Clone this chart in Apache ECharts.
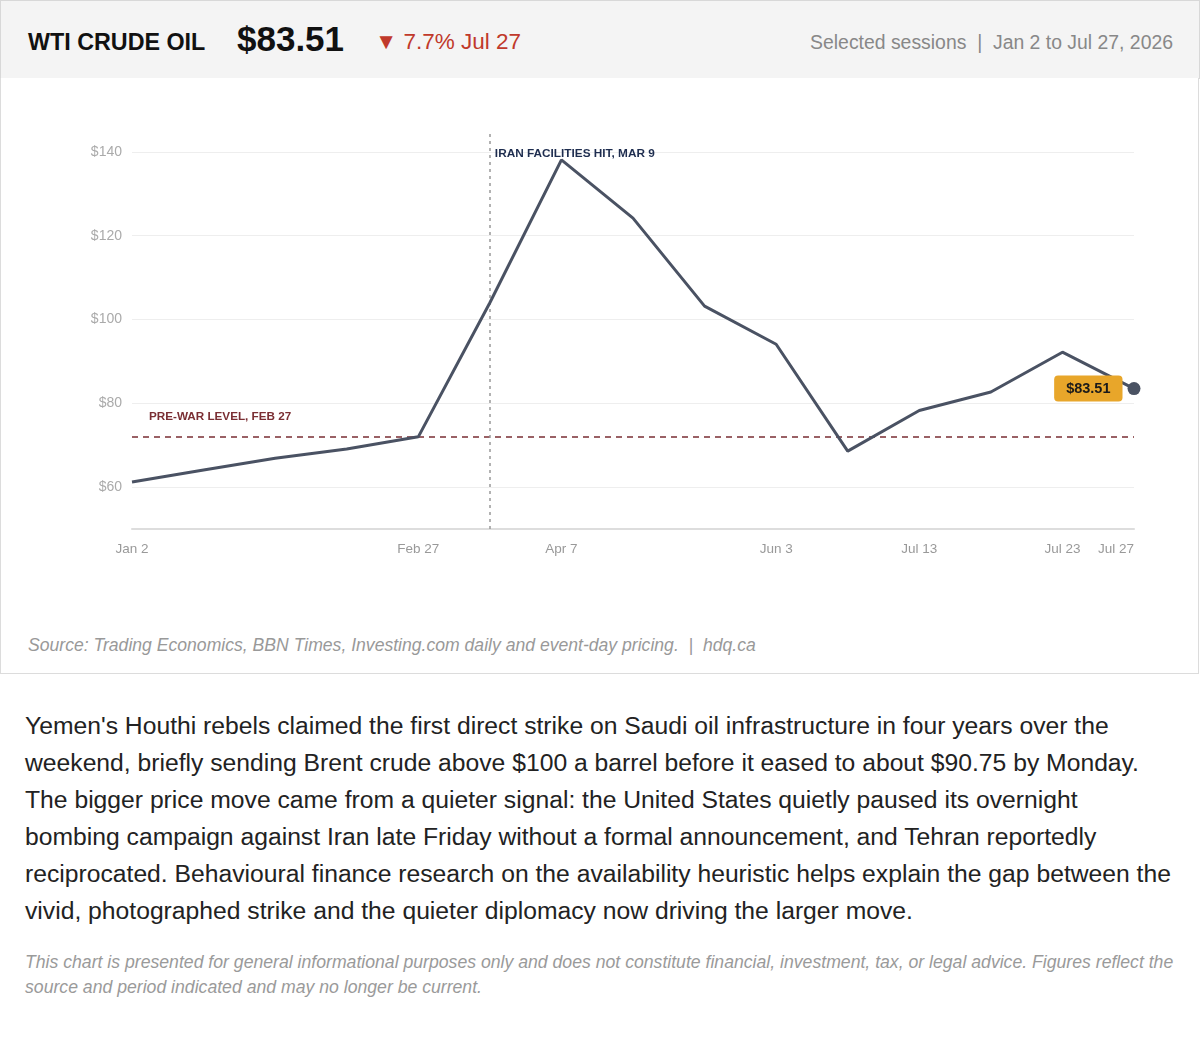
<!DOCTYPE html>
<html>
<head>
<meta charset="utf-8">
<script src="https://cdn.jsdelivr.net/npm/echarts@6/dist/echarts.min.js"></script>
<style>
  html, body { margin: 0; padding: 0; background: #fff; font-family: "Liberation Sans", Arial, sans-serif; }
  #page { position: relative; width: 1200px; height: 1038px; }
  #header { position: absolute; left: 0; top: 0; width: 1198px; height: 77px; background: #f4f4f4; border: 1px solid #d8d8d8; }
  #panel { position: absolute; left: 0; top: 78px; width: 1197px; height: 595px; border: 1.5px solid #dcdcdc; border-top: none; background: #fff; }
  .h { position: absolute; white-space: nowrap; line-height: 1; }
  #t1 { left: 27px; top: 30px; font-size: 23.3px; font-weight: bold; color: #111; }
  #t2 { left: 236px; top: 20px; font-size: 35px; font-weight: bold; color: #111; }
  #t3 { left: 374px; top: 30px; font-size: 22.5px; color: #c0392b; }
  #t4 { right: 26px; top: 32px; font-size: 19.4px; color: #888; }
  #chart { position: absolute; left: 0; top: 0; width: 1197px; height: 540px; }
  #source { position: absolute; left: 27px; top: 557px; font-size: 17.6px; font-style: italic; color: #999; white-space: nowrap; }
  #body { position: absolute; left: 25px; top: 707px; width: 1152px; font-size: 24.7px; line-height: 37px; color: #222; }
  #disc { position: absolute; left: 25px; top: 950px; width: 1152px; font-size: 17.65px; line-height: 25px; color: #9a9a9a; font-style: italic; }
</style>
</head>
<body>
<div id="page">
  <div id="header">
    <div class="h" id="t1">WTI CRUDE OIL</div>
    <div class="h" id="t2">$83.51</div>
    <div class="h" id="t3">▼ 7.7% Jul 27</div>
    <div class="h" id="t4">Selected sessions &nbsp;|&nbsp; Jan 2 to Jul 27, 2026</div>
  </div>
  <div id="panel">
    <div id="chart"></div>
    <div id="source">Source: Trading Economics, BBN Times, Investing.com daily and event-day pricing. &nbsp;|&nbsp; hdq.ca</div>
  </div>
  <div id="body">Yemen's Houthi rebels claimed the first direct strike on Saudi oil infrastructure in four years over the weekend, briefly sending Brent crude above $100 a barrel before it eased to about $90.75 by Monday. The bigger price move came from a quieter signal: the United States quietly paused its overnight bombing campaign against Iran late Friday without a formal announcement, and Tehran reportedly reciprocated. Behavioural finance research on the availability heuristic helps explain the gap between the vivid, photographed strike and the quieter diplomacy now driving the larger move.</div>
  <div id="disc">This chart is presented for general informational purposes only and does not constitute financial, investment, tax, or legal advice. Figures reflect the source and period indicated and may no longer be current.</div>
</div>
<script>
// Session labels (only some are shown on the axis; unlabeled sessions left blank)
const sessions = ['Jan 2', '', '', '', 'Feb 27', 'Mar 9', 'Apr 7', '', '', 'Jun 3', '', 'Jul 13', '', 'Jul 23', 'Jul 27'];
const shownTicks = ['Jan 2', 'Feb 27', 'Apr 7', 'Jun 3', 'Jul 13', 'Jul 23', 'Jul 27'];
const prices = [61.2, 64.1, 66.9, 69.1, 72.0, 104.0, 138.1, 124.2, 103.2, 94.1, 68.6, 78.3, 82.7, 92.2, 83.51];
const yGridValues = [60, 80, 100, 120, 140];
const prewarLevel = 72.0;
const eventIndex = 5;
const eventLabel = 'IRAN FACILITIES HIT, MAR 9';
const prewarLabel = 'PRE-WAR LEVEL, FEB 27';

const chart = echarts.init(document.getElementById('chart'));
const last = prices.length - 1;
const lineColor = '#4a5263';

const seriesData = prices.map((v, i) => i === last ? {
  value: v,
  symbol: 'circle',
  symbolSize: 13,
  label: {
    show: true, position: 'left', distance: 5,
    formatter: '$' + v.toFixed(2),
    backgroundColor: '#e8a62a', borderRadius: 4, padding: [6, 12, 5, 12],
    color: '#1a1a1a', fontWeight: 'bold', fontSize: 14.5, fontFamily: 'Liberation Sans, Arial'
  }
} : v);

chart.setOption({
  animation: false,
  textStyle: { fontFamily: 'Liberation Sans, Arial, sans-serif' },
  grid: { left: 131, right: 64, top: 53, bottom: 89 },
  xAxis: {
    type: 'category',
    data: sessions,
    boundaryGap: false,
    axisLine: { show: true, lineStyle: { color: '#dddddd', width: 2 } },
    axisTick: { show: false },
    axisLabel: {
      interval: 0, color: '#999', fontSize: 13.5, margin: 13,
      alignMaxLabel: 'right',
      formatter: (v) => shownTicks.includes(v) ? v : ''
    },
    splitLine: { show: false }
  },
  yAxis: {
    type: 'value',
    min: 50, max: 145, interval: 10,
    axisLine: { show: false },
    axisTick: { show: false },
    splitLine: { show: false },
    axisLabel: {
      color: '#aaa', fontSize: 14, margin: 10,
      formatter: (v) => yGridValues.includes(v) ? '$' + v : ''
    }
  },
  series: [
    {
      type: 'line',
      data: yGridValues.map(() => null),
      silent: true,
      markLine: {
        silent: true, symbol: 'none',
        lineStyle: { color: '#eeeeee', width: 1, type: 'solid' },
        label: { show: false },
        data: yGridValues.map(v => ({ yAxis: v }))
      }
    },
    {
      type: 'line',
      data: seriesData,
      symbol: 'none',
      showSymbol: true,
      showAllSymbol: true,
      lineStyle: { color: lineColor, width: 3 },
      itemStyle: { color: lineColor },
      z: 5,
      markLine: {
        silent: true, symbol: 'none',
        data: [
          {
            yAxis: prewarLevel,
            lineStyle: { color: '#7a2e33', width: 1.5, type: [6, 5] },
            label: {
              show: true, position: 'insideStartTop', formatter: prewarLabel,
              color: '#7a2e33', fontWeight: 'bold', fontSize: 11.7, distance: [17, 14]
            }
          },
          {
            xAxis: eventIndex,
            lineStyle: { color: '#999', width: 1.5, type: [3, 4] },
            label: { show: false }
          }
        ]
      },
      markPoint: {
        silent: true,
        symbol: 'circle', symbolSize: 0,
        data: [{
          coord: [eventIndex, 139.5],
          label: {
            show: true, position: 'right', distance: 5, formatter: eventLabel,
            color: '#1e2d4f', fontWeight: 'bold', fontSize: 11.8
          }
        }]
      }
    }
  ]
});
</script>
</body>
</html>
